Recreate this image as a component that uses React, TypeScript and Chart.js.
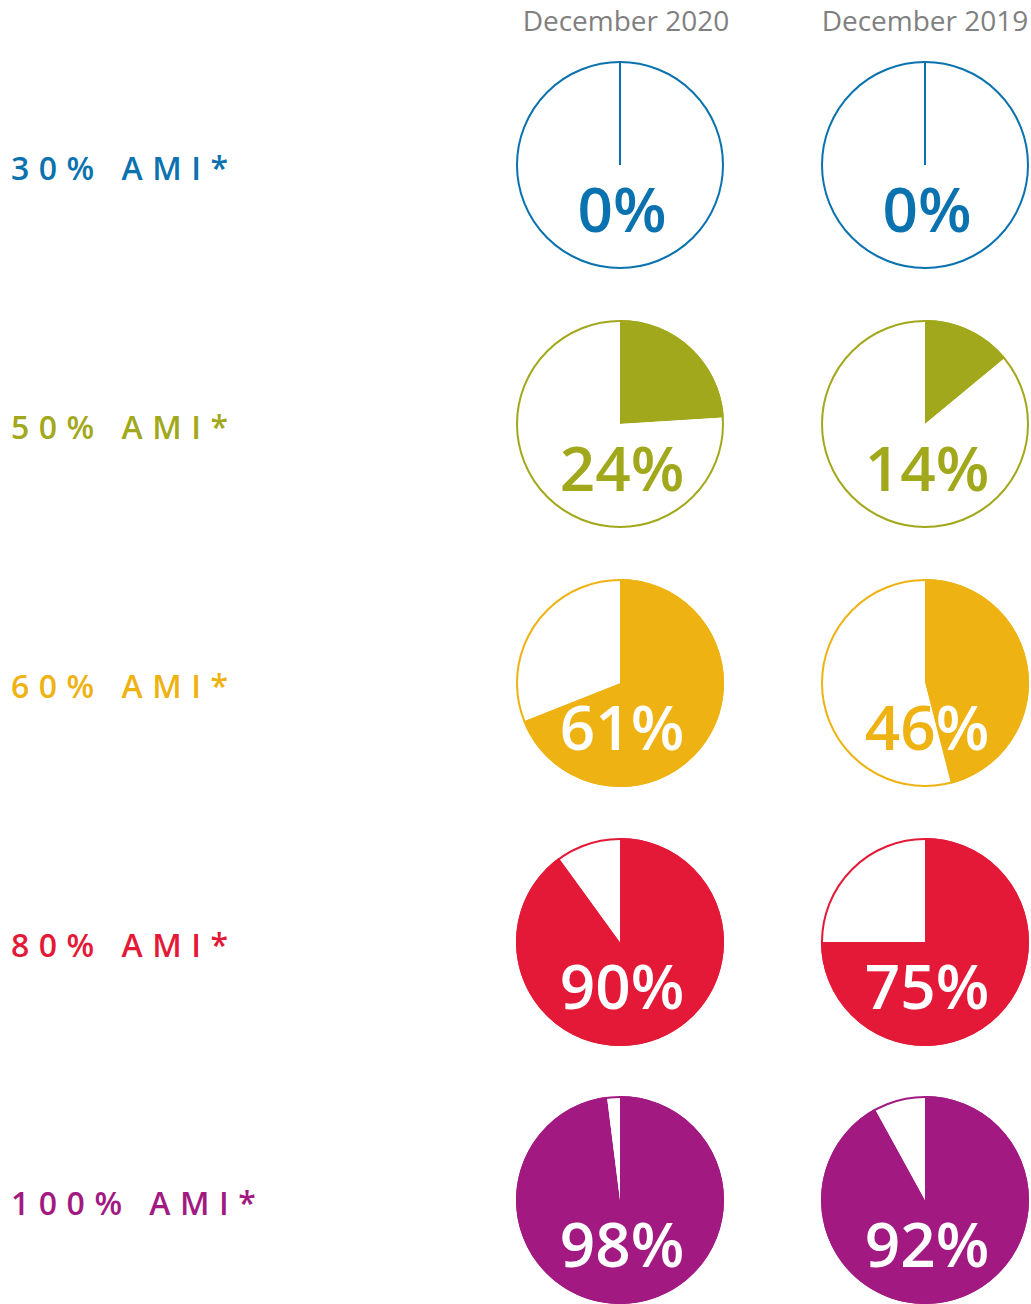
import React, { useEffect, useRef } from "react";
import { Chart, registerables } from "chart.js";

Chart.register(...registerables);

// ---- data ----
const rowLabels = ["30% AMI*", "50% AMI*", "60% AMI*", "80% AMI*", "100% AMI*"];
const columnHeaders = ["December 2020", "December 2019"];
// share of units affordable, as drawn in the wedges (the 60% / Dec 2020 wedge is drawn at ~69%)
const sharesDec2020 = [0, 24, 69, 90, 98];
const sharesDec2019 = [0, 14, 46, 75, 92];
// printed labels
const labelsDec2020 = ["0%", "24%", "61%", "90%", "98%"];
const labelsDec2019 = ["0%", "14%", "46%", "75%", "92%"];
const rowColors = ["#0a72ae", "#a2a81b", "#eeb213", "#e31937", "#a21a81"];

// ---- layout ----
const colCenters = [620, 925];
const rowCenters = [165, 424, 683, 942, 1200];
const PIE_RADIUS = 104;
const PAD = 6;
const CANVAS = (PIE_RADIUS + PAD) * 2;
const FONT = "'Open Sans', 'Noto Sans', sans-serif";

const pctPlugin = {
  id: "pct",
  afterDatasetsDraw(chart: any, _args: any, opts: any) {
    const meta = chart.getDatasetMeta(0);
    const arc = meta.data[0];
    if (!arc) return;
    const { x, y, outerRadius, startAngle, endAngle } = arc.getProps(
      ["x", "y", "outerRadius", "startAngle", "endAngle"],
      true
    );
    const ctx = chart.ctx as CanvasRenderingContext2D;
    const color = opts.color;
    const value = chart.data.datasets[0].data[0];
    ctx.save();
    // outer ring
    ctx.strokeStyle = color;
    ctx.lineWidth = 2;
    ctx.beginPath();
    ctx.arc(x, y, outerRadius - 1, 0, Math.PI * 2);
    ctx.stroke();
    if (value === 0) {
      ctx.beginPath();
      ctx.moveTo(x, y);
      ctx.lineTo(x, y - outerRadius + 1);
      ctx.stroke();
    }
    // label: colored over white, white over colored wedge
    ctx.font = `600 62px ${FONT}`;
    ctx.textAlign = "center";
    ctx.textBaseline = "alphabetic";
    const tx = x + (opts.dx || 0);
    const ty = y + 67;
    ctx.fillStyle = color;
    ctx.fillText(opts.label, tx, ty);
    if (endAngle - startAngle > 0) {
      ctx.beginPath();
      ctx.moveTo(x, y);
      ctx.arc(x, y, outerRadius, startAngle, endAngle);
      ctx.closePath();
      ctx.clip();
      ctx.fillStyle = "#ffffff";
      ctx.fillText(opts.label, tx, ty);
    }
    ctx.restore();
  },
};

function Pie({ value, label, color, cx, cy }: { value: number; label: string; color: string; cx: number; cy: number }) {
  const ref = useRef<HTMLCanvasElement>(null);
  useEffect(() => {
    if (!ref.current) return;
    const chart = new Chart(ref.current, {
      type: "pie",
      data: {
        labels: ["share", "rest"],
        datasets: [
          {
            data: [value, 100 - value],
            backgroundColor: [color, "#ffffff"],
            borderWidth: 0,
          },
        ],
      },
      options: {
        responsive: false,
        animation: false,
        events: [],
        layout: { padding: PAD },
        plugins: {
          legend: { display: false },
          tooltip: { enabled: false },
          pct: { color, label, dx: 2 },
        } as any,
      },
      plugins: [pctPlugin],
    });
    return () => chart.destroy();
  }, [value, label, color]);
  return (
    <canvas
      ref={ref}
      width={CANVAS}
      height={CANVAS}
      style={{ position: "absolute", left: cx - CANVAS / 2, top: cy - CANVAS / 2, width: CANVAS, height: CANVAS }}
    />
  );
}

export default function App() {
  useEffect(() => {
    document.body.style.margin = "0";
  }, []);
  const cols = [
    { shares: sharesDec2020, labels: labelsDec2020 },
    { shares: sharesDec2019, labels: labelsDec2019 },
  ];
  return (
    <div style={{ position: "relative", width: 1031, height: 1304, background: "#fff", overflow: "hidden" }}>
      {columnHeaders.map((h, i) => (
        <div
          key={h}
          style={{
            position: "absolute",
            left: colCenters[i] + (i === 0 ? 6 : 0),
            top: 6,
            transform: "translateX(-50%)",
            font: `400 28px ${FONT}`,
            lineHeight: "28px",
            color: "#808080",
            whiteSpace: "nowrap",
          }}
        >
          {h}
        </div>
      ))}
      {rowLabels.map((l, r) => (
        <div
          key={l}
          style={{
            position: "absolute",
            left: 11,
            top: rowCenters[r] - 13,
            font: `600 32px ${FONT}`,
            lineHeight: "32px",
            letterSpacing: "9.5px",
            color: rowColors[r],
            whiteSpace: "nowrap",
          }}
        >
          {l}
        </div>
      ))}
      {cols.map((c, ci) =>
        c.shares.map((v, r) => (
          <Pie key={`${ci}-${r}`} value={v} label={c.labels[r]} color={rowColors[r]} cx={colCenters[ci]} cy={rowCenters[r]} />
        ))
      )}
    </div>
  );
}
